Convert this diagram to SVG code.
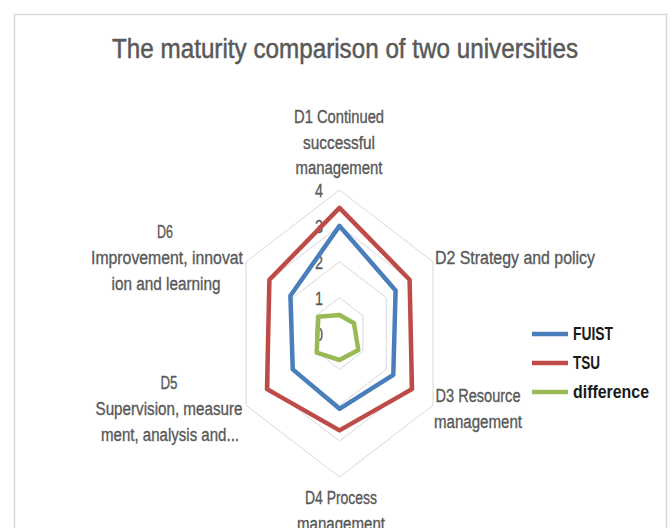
<svg xmlns="http://www.w3.org/2000/svg" width="672" height="528" viewBox="0 0 672 528">
<style>
text{font-family:"Liberation Sans",Arial,sans-serif;fill:#595959;}
.lbl{font-size:18px;text-anchor:middle;stroke:#595959;stroke-width:0.35;}
.ax{font-size:18px;text-anchor:middle;stroke:#595959;stroke-width:0.3;}
.leg{font-size:18px;font-weight:bold;fill:#1a1a1a;}
.grid{fill:none;stroke:#d9d9d9;stroke-width:1;}
.ser{fill:none;stroke-width:4.5;stroke-linejoin:round;}
</style>
<rect x="0" y="0" width="672" height="528" fill="#ffffff"/>
<rect x="14.5" y="14.5" width="652" height="530" fill="#ffffff" stroke="#d9d9d9" stroke-width="1.5"/>
<text id="title" x="345" y="58" style="font-size:27px;text-anchor:middle;stroke:#595959;stroke-width:0.5" textLength="466" lengthAdjust="spacingAndGlyphs">The maturity comparison of two universities</text>
<g id="grid">
<polygon class="grid" points="339.5,297.6 362.9,315.6 362.9,351.4 339.5,369.4 316.1,351.4 316.1,315.6"/>
<polygon class="grid" points="339.5,261.75 386.25,297.6 386.25,369.4 339.5,405.25 292.75,369.4 292.75,297.6"/>
<polygon class="grid" points="339.5,225.9 409.6,279.7 409.6,387.3 339.5,441.1 269.4,387.3 269.4,279.7"/>
<polygon class="grid" points="339.5,190 433,261.75 433,405.25 339.5,477 246,405.25 246,261.75"/>
</g>
<g id="axis-values">
<text class="ax" x="319" y="341" textLength="8" lengthAdjust="spacingAndGlyphs">0</text>
<text class="ax" x="319" y="305" textLength="8" lengthAdjust="spacingAndGlyphs">1</text>
<text class="ax" x="319" y="269" textLength="8" lengthAdjust="spacingAndGlyphs">2</text>
<text class="ax" x="319" y="233" textLength="8" lengthAdjust="spacingAndGlyphs">3</text>
<text class="ax" x="319" y="197" textLength="8" lengthAdjust="spacingAndGlyphs">4</text>
</g>
<g id="connectors">
<polygon id="FUIST" class="ser" stroke="#4a7ebb" points="339.5,225.9 395.6,290.4 393.3,374.8 339.5,408.8 292.75,369.4 290.4,295.8"/>
<polygon id="TSU" class="ser" stroke="#be4b48" points="339.5,207.9 409.6,279.7 412,389.1 339.5,430.4 267,389.1 269.4,279.7"/>
<polygon id="difference" class="ser" stroke="#98b954" points="339.5,315 354,323.3 358.3,350 339.5,360 316.7,352.7 318.3,316.7"/>
</g>
<g id="D1">
<text class="lbl" x="339" y="123" textLength="90" lengthAdjust="spacingAndGlyphs">D1 Continued</text>
<text class="lbl" x="339" y="149" textLength="72" lengthAdjust="spacingAndGlyphs">successful</text>
<text class="lbl" x="339" y="174" textLength="87" lengthAdjust="spacingAndGlyphs">management</text>
</g>
<g id="D2">
<text class="lbl" x="515" y="264" textLength="160" lengthAdjust="spacingAndGlyphs">D2 Strategy and policy</text>
</g>
<g id="D3">
<text class="lbl" x="478" y="402" textLength="85" lengthAdjust="spacingAndGlyphs">D3 Resource</text>
<text class="lbl" x="478" y="428" textLength="88" lengthAdjust="spacingAndGlyphs">management</text>
</g>
<g id="D4">
<text class="lbl" x="341" y="504" textLength="72" lengthAdjust="spacingAndGlyphs">D4 Process</text>
<text class="lbl" x="341" y="530" textLength="88" lengthAdjust="spacingAndGlyphs">management</text>
</g>
<g id="D5">
<text class="lbl" x="169" y="389" textLength="17" lengthAdjust="spacingAndGlyphs">D5</text>
<text class="lbl" x="169" y="415" textLength="147" lengthAdjust="spacingAndGlyphs">Supervision, measure</text>
<text class="lbl" x="170" y="441" textLength="138" lengthAdjust="spacingAndGlyphs">ment, analysis and...</text>
</g>
<g id="D6">
<text class="lbl" x="165" y="238" textLength="16" lengthAdjust="spacingAndGlyphs">D6</text>
<text class="lbl" x="167" y="264" textLength="152" lengthAdjust="spacingAndGlyphs">Improvement, innovat</text>
<text class="lbl" x="166" y="290" textLength="109" lengthAdjust="spacingAndGlyphs">ion and learning</text>
</g>
<g id="legend">
<line x1="532" y1="334" x2="568" y2="334" stroke="#4a7ebb" stroke-width="4.5"/>
<text class="leg" x="573" y="340" textLength="40" lengthAdjust="spacingAndGlyphs">FUIST</text>
<line x1="532" y1="363" x2="568" y2="363" stroke="#be4b48" stroke-width="4.5"/>
<text class="leg" x="573" y="369" textLength="27" lengthAdjust="spacingAndGlyphs">TSU</text>
<line x1="532" y1="392" x2="568" y2="392" stroke="#98b954" stroke-width="4.5"/>
<text class="leg" x="573" y="398" textLength="76" lengthAdjust="spacingAndGlyphs">difference</text>
</g>
</svg>
